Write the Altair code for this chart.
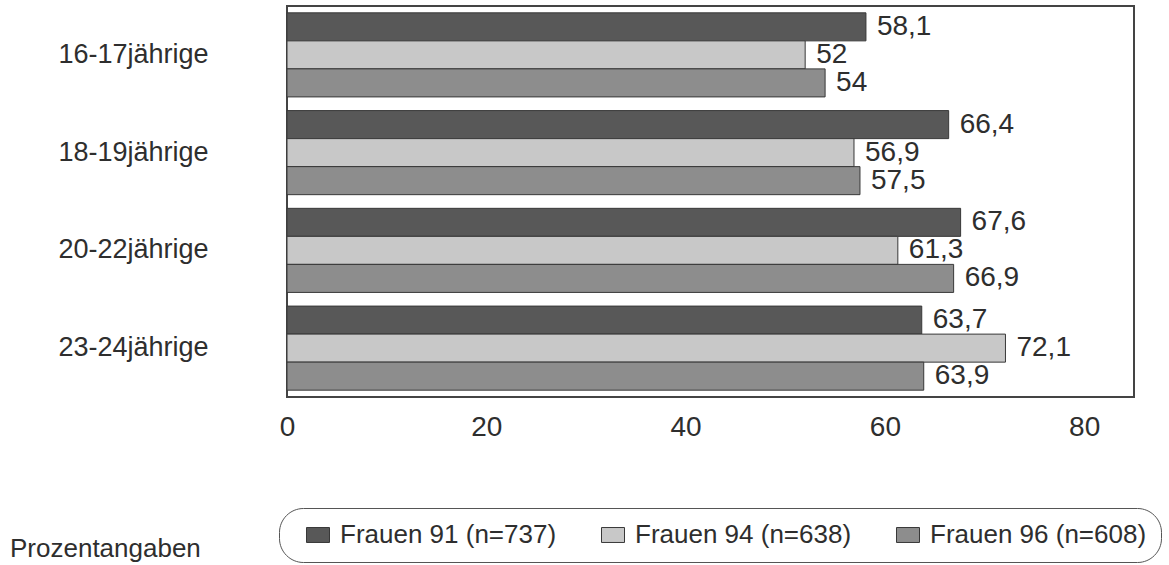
import altair as alt
import pandas as pd

# Altersgruppen und Befragungswellen
gruppen = ["16-17jährige", "18-19jährige", "20-22jährige", "23-24jährige"]
wellen = ["Frauen 91 (n=737)", "Frauen 94 (n=638)", "Frauen 96 (n=608)"]

# Prozentwerte je Welle, in der Reihenfolge der Altersgruppen
frauen_91 = [58.1, 66.4, 67.6, 63.7]
frauen_94 = [52, 56.9, 61.3, 72.1]
frauen_96 = [54, 57.5, 66.9, 63.9]

achse_werte = [0, 20, 40, 60, 80]
farben = ["#585858", "#c8c8c8", "#8d8d8d"]

FONT = "Liberation Sans"
TEXT = "#2e2e2e"

rows = []
for welle, werte in zip(wellen, [frauen_91, frauen_94, frauen_96]):
    for gruppe, wert in zip(gruppen, werte):
        rows.append({
            "gruppe": gruppe,
            "welle": welle,
            "wert": wert,
            "label": f"{wert:g}".replace(".", ","),
        })
df = pd.DataFrame(rows)

y_enc = alt.Y(
    "gruppe:N",
    sort=gruppen,
    scale=alt.Scale(paddingInner=0.14, paddingOuter=0.07),
    axis=alt.Axis(
        title=None, domain=False, ticks=False, labelPadding=79,
        labelFontSize=27, labelFont=FONT, labelColor=TEXT,
    ),
)
yoff_enc = alt.YOffset(
    "welle:N", sort=wellen, scale=alt.Scale(paddingInner=0, paddingOuter=0)
)
x_enc = alt.X(
    "wert:Q",
    scale=alt.Scale(domain=[0, 85], nice=False),
    axis=alt.Axis(
        title=None, values=achse_werte, domain=False, ticks=False, grid=False,
        labelFlush=False, labelPadding=16, labelFontSize=28, labelFont=FONT,
        labelColor=TEXT,
    ),
)

balken = alt.Chart(df).mark_bar(stroke="#383838", strokeWidth=1).encode(
    y=y_enc,
    yOffset=yoff_enc,
    x=x_enc,
    color=alt.Color(
        "welle:N",
        sort=wellen,
        scale=alt.Scale(domain=wellen, range=farben),
        legend=alt.Legend(
            title=None,
            orient="none",
            legendX=-8,
            legendY=502,
            direction="horizontal",
            columns=3,
            padding=14,
            strokeColor="#555555",
            cornerRadius=24,
            symbolType="M-1,-0.65H1V0.65H-1Z",
            symbolSize=529,
            symbolStrokeColor="#383838",
            symbolStrokeWidth=1,
            symbolOffset=12,
            labelFont=FONT,
            labelFontSize=26,
            labelColor=TEXT,
            labelOffset=9,
            labelLimit=400,
            columnPadding=31,
        ),
    ),
)

werte_text = alt.Chart(df).mark_text(
    align="left", baseline="middle", dx=11, fontSize=28, font=FONT, color=TEXT
).encode(
    y=alt.Y("gruppe:N", sort=gruppen),
    yOffset=alt.YOffset("welle:N", sort=wellen),
    x="wert:Q",
    text="label:N",
)

hinweis = alt.Chart(alt.Data(values=[{"t": "Prozentangaben"}])).mark_text(
    align="left", baseline="alphabetic", fontSize=26, font=FONT, color=TEXT
).encode(
    x=alt.value(-277),
    y=alt.value(551),
    text="t:N",
)

chart = (
    alt.layer(balken, werte_text, hinweis)
    .properties(
        width=847,
        height=391,
        padding={"left": 287, "top": 6, "right": 35, "bottom": 168},
        autosize=alt.AutoSizeParams(type="none"),
        background="white",
    )
    .configure_view(stroke="#444444", strokeWidth=2)
)

chart.save("out.html", embed_options={"renderer": "svg", "actions": False})
